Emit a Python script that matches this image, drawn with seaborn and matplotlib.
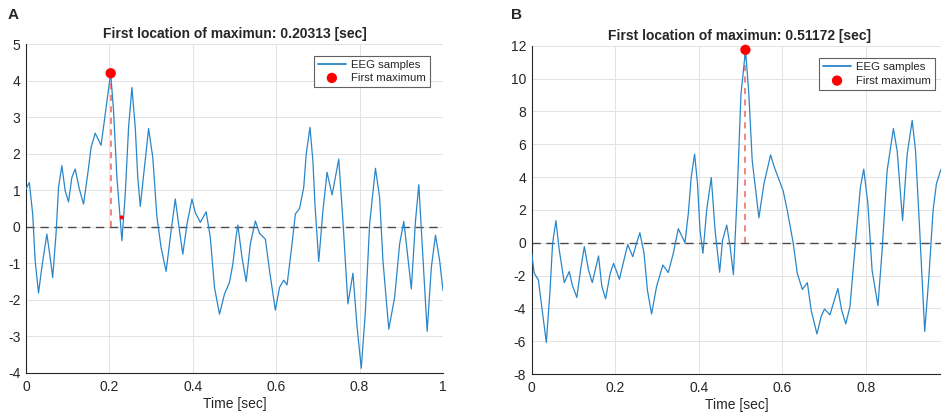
import matplotlib
matplotlib.use("Agg")
import matplotlib.pyplot as plt
import seaborn as sns

# Panel A: EEG trace (time in s, amplitude)
time_a = [0.000, 0.008, 0.016, 0.022, 0.030, 0.038, 0.050, 0.058, 0.064, 0.072,
          0.078, 0.086, 0.094, 0.102, 0.110, 0.118, 0.128, 0.138, 0.148, 0.156,
          0.166, 0.180, 0.190, 0.203, 0.210, 0.218, 0.230, 0.238, 0.246, 0.254,
          0.262, 0.268, 0.274, 0.284, 0.294, 0.304, 0.314, 0.324, 0.336, 0.346,
          0.358, 0.366, 0.376, 0.386, 0.398, 0.406, 0.418, 0.432, 0.442, 0.452,
          0.464, 0.476, 0.488, 0.496, 0.504, 0.508, 0.518, 0.528, 0.538, 0.550,
          0.560, 0.574, 0.584, 0.598, 0.608, 0.618, 0.626, 0.636, 0.646, 0.656,
          0.666, 0.672, 0.681, 0.688, 0.693, 0.702, 0.712, 0.722, 0.734, 0.750,
          0.760, 0.772, 0.784, 0.794, 0.804, 0.814, 0.824, 0.838, 0.848, 0.856,
          0.870, 0.884, 0.896, 0.906, 0.914, 0.924, 0.934, 0.942, 0.950, 0.962,
          0.972, 0.982, 0.992, 1.000]
eeg_a = [1.03, 1.21, 0.35, -0.93, -1.81, -1.11, -0.20, -0.84, -1.39, -0.20,
         1.08, 1.67, 0.98, 0.68, 1.35, 1.58, 1.03, 0.62, 1.44, 2.17,
         2.56, 2.23, 3.08, 4.20, 3.17, 1.35, -0.38, 0.89, 2.72, 3.81,
         2.72, 1.35, 0.56, 1.62, 2.69, 1.90, 0.26, -0.57, -1.22, -0.29,
         0.76, 0.07, -0.75, 0.07, 0.76, 0.39, 0.12, 0.41, -0.29, -1.66,
         -2.39, -1.84, -1.52, -1.02, -0.25, 0.05, -0.84, -1.50, -0.47, 0.16,
         -0.18, -0.34, -1.20, -2.28, -1.66, -1.46, -1.59, -0.66, 0.35, 0.50,
         1.08, 1.99, 2.72, 1.80, 0.60, -0.95, 0.44, 1.49, 0.87, 1.85,
         0.16, -2.11, -1.27, -2.75, -3.87, -2.30, 0.07, 1.60, 0.80, -0.93,
         -2.80, -1.93, -0.47, 0.15, -0.66, -1.70, 0.16, 1.15, -0.47, -2.86,
         -1.11, -0.23, -0.93, -1.75]
max_time_a = 0.20313
max_val_a = 4.20
stray_time_a = [0.2295]
stray_val_a = [0.255]

# Panel B
time_b = [0.000, 0.006, 0.016, 0.024, 0.035, 0.044, 0.050, 0.058, 0.066, 0.078,
          0.090, 0.097, 0.108, 0.117, 0.126, 0.136, 0.145, 0.160, 0.168, 0.177,
          0.188, 0.196, 0.210, 0.220, 0.230, 0.242, 0.251, 0.259, 0.269, 0.277,
          0.287, 0.299, 0.314, 0.327, 0.339, 0.351, 0.367, 0.375, 0.382, 0.390,
          0.397, 0.403, 0.410, 0.419, 0.430, 0.439, 0.450, 0.457, 0.467, 0.475,
          0.483, 0.492, 0.501, 0.512, 0.520, 0.528, 0.544, 0.556, 0.572, 0.581,
          0.590, 0.602, 0.612, 0.626, 0.636, 0.648, 0.660, 0.669, 0.683, 0.693,
          0.701, 0.714, 0.733, 0.742, 0.752, 0.762, 0.775, 0.787, 0.795, 0.805,
          0.815, 0.829, 0.839, 0.851, 0.866, 0.875, 0.888, 0.899, 0.911, 0.919,
          0.929, 0.941, 0.951, 0.961, 0.969, 0.980]
eeg_b = [-0.65, -1.86, -2.27, -3.89, -6.08, -2.88, -0.04, 1.34, -0.45, -2.43,
         -1.76, -2.57, -3.34, -1.66, -0.24, -1.66, -2.43, -0.81, -2.67, -3.42,
         -1.86, -1.26, -2.23, -1.15, -0.12, -0.85, -0.04, 0.61, -0.65, -2.88,
         -4.34, -2.67, -1.36, -1.82, -0.65, 0.85, 0.00, 1.78, 4.01, 5.39,
         3.61, 0.77, -0.65, 1.99, 3.97, 0.77, -1.80, 0.16, 1.07, -0.24,
         -1.95, 2.97, 9.03, 11.75, 9.03, 4.99, 1.52, 3.58, 5.35, 4.59,
         3.98, 3.17, 1.96, 0.00, -1.88, -2.85, -2.44, -4.10, -5.56, -4.50,
         -4.04, -4.40, -2.79, -4.10, -4.95, -3.90, -0.06, 3.37, 4.48, 2.36,
         -1.68, -3.84, -0.46, 4.38, 6.95, 5.60, 1.35, 5.39, 7.45, 5.60,
         0.75, -5.41, -2.08, 1.96, 3.58, 4.48]
max_time_b = 0.51172
max_val_b = 11.75

ticks_x_a = [0, 0.2, 0.4, 0.6, 0.8, 1]
ticks_x_b = [0, 0.2, 0.4, 0.6, 0.8]
ticks_y_a = list(range(-4, 6))
ticks_y_b = list(range(-8, 13, 2))

sns.set_style("white")
plt.rcParams["font.family"] = ["Liberation Sans", "DejaVu Sans"]

LINE_BLUE = "#2a86c8"
AXIS_GRAY = "#262626"


def tick_text(x):
	return f"{x:g}"


def draw_panel(ax, t, v, tmax, vmax, xlim, ylim, xticks, yticks, title, legend_anchor, title_x):
	ax.grid(True, color="#e3e3e3", linewidth=0.7)
	ax.set_axisbelow(True)
	ax.axhline(0, color="#4a4a4a", linestyle=(0, (6, 4)), linewidth=1.0, zorder=2)
	ax.plot([tmax, tmax], [0, vmax], color="#f06262", linestyle=(0, (4, 3.5)), linewidth=1.1, zorder=2)
	sns.lineplot(x=t, y=v, ax=ax, color=LINE_BLUE, linewidth=0.9, label="EEG samples", zorder=3)
	sns.scatterplot(x=[tmax], y=[vmax], ax=ax, color="red", s=55, edgecolor="none",
		label="First maximum", zorder=5, clip_on=False)
	ax.set_xlim(*xlim)
	ax.set_ylim(*ylim)
	ax.set_xticks(xticks)
	ax.set_xticklabels([tick_text(x) for x in xticks])
	ax.set_yticks(yticks)
	ax.set_yticklabels([tick_text(y) for y in yticks])
	ax.tick_params(direction="in", length=3, width=0.6, labelsize=10, colors=AXIS_GRAY, pad=4)
	ax.tick_params(axis="x", pad=5)
	for side in ("top", "right"):
		ax.spines[side].set_visible(False)
	for side in ("left", "bottom"):
		ax.spines[side].set_color(AXIS_GRAY)
		ax.spines[side].set_linewidth(0.8)
	ax.set_xlabel("Time [sec]", fontsize=10, color=AXIS_GRAY, labelpad=2)
	ax.set_ylabel("")
	ax.set_title(title, fontsize=10, fontweight="bold", pad=4, x=title_x)
	leg = ax.legend(loc="upper right", bbox_to_anchor=legend_anchor, fontsize=8.2, frameon=True,
		fancybox=False, edgecolor="#3a3a3a", handlelength=2.5, borderpad=0.35, labelspacing=0.3,
		handletextpad=0.45, borderaxespad=0)
	leg.get_frame().set_linewidth(0.8)
	leg.get_lines()[0].set_linewidth(1.3)


fig = plt.figure(figsize=(9.41, 4.17), dpi=100)
ax_a = fig.add_axes([26 / 941, 44 / 417, 417 / 941, 329 / 417])
ax_b = fig.add_axes([531.7 / 941, 43 / 417, 409.3 / 941, 328.3 / 417])

draw_panel(ax_a, time_a, eeg_a, max_time_a, max_val_a, (0, 1), (-4, 5), ticks_x_a, ticks_y_a,
	"First location of maximun: 0.20313 [sec]", (0.969, 0.965), 0.5)
sns.scatterplot(x=stray_time_a, y=stray_val_a, ax=ax_a, color="red", s=9, edgecolor="none",
	legend=False, zorder=5)

draw_panel(ax_b, time_b, eeg_b, max_time_b, max_val_b, (0, 0.98), (-8, 12), ticks_x_b, ticks_y_b,
	"First location of maximun: 0.51172 [sec]", (0.986, 0.962), 0.508)

fig.text(13 / 941, 1 - 15 / 417, "A", fontsize=11, fontweight="bold", va="center", ha="center")
fig.text(517 / 941, 1 - 15 / 417, "B", fontsize=11, fontweight="bold", va="center", ha="center")

fig.savefig("out.png", dpi=100)
